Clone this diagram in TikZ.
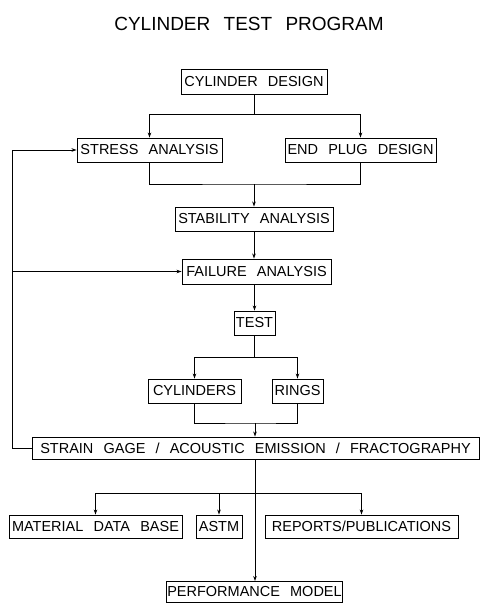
\documentclass[tikz,border=0pt]{standalone}
\usepackage{fontspec}
\setmainfont{Liberation Sans}
\usetikzlibrary{arrows.meta}
\newcommand\myboxfont{\fontsize{14.5}{16}\selectfont\spaceskip=0.7em plus 0pt minus 0pt\relax}
\newcommand\mytitlefont{\fontsize{19}{22}\selectfont\spaceskip=0.7em plus 0pt minus 0pt\relax}
\tikzset{
  box/.style={draw, line width=0.9pt, inner sep=0pt, minimum height=24pt, font=\myboxfont},
  conn/.style={line width=0.8pt},
  arr/.style={conn, -{Stealth[length=5pt,width=3.5pt]}}
}
\begin{document}
\begin{tikzpicture}[x=1pt,y=-1pt]
\useasboundingbox (0,0) rectangle (481,605);
\node[font=\mytitlefont] (title) at (249,24) {CYLINDER TEST PROGRAM};
\node[box, minimum width=146pt, minimum height=25pt] (cd) at (254,81.5) {CYLINDER DESIGN};
\node[box, minimum width=145pt] (sa) at (149.5,150) {STRESS ANALYSIS};
\node[box, minimum width=151pt] (ep) at (360.5,150) {END PLUG DESIGN};
\node[box, minimum width=158pt] (st) at (254,219) {STABILITY ANALYSIS};
\node[box, minimum width=149pt, minimum height=25pt] (fa) at (256.5,271.5) {FAILURE ANALYSIS};
\node[box, minimum width=41pt] (te) at (254.5,323) {TEST};
\node[box, minimum width=93pt] (cy) at (194.5,391) {CYLINDERS};
\node[box, minimum width=51pt] (ri) at (297.5,391) {RINGS};
\node[box, minimum width=447pt, minimum height=22pt] (sg) at (255.5,448) {STRAIN GAGE / ACOUSTIC EMISSION / FRACTOGRAPHY};
\node[box, minimum width=173pt, minimum height=23pt] (md) at (95.5,526.5) {MATERIAL DATA BASE};
\node[box, minimum width=46pt, minimum height=23pt] (as) at (219,526.5) {ASTM};
\node[box, minimum width=193pt, minimum height=23pt] (rp) at (361.5,526.5) {REPORTS/PUBLICATIONS};
\node[box, minimum width=176pt, minimum height=21pt] (pm) at (254.5,592) {PERFORMANCE MODEL};
% top split
\coordinate (j1) at (254,114);
\draw[conn] (cd.south) -- (j1);
\draw[arr] (j1) -| (sa.north);
\draw[arr] (j1) -| (ep.north);
% merge
\coordinate (j2) at (254,184);
\draw[conn] (sa.south) |- (j2) -| (ep.south);
\draw[arr] (j2) -- (st.north);
\draw[arr] (st.south) -- (fa.north -| st.south);
\draw[arr] (fa.south -| te.north) -- (te.north);
% test split
\coordinate (j3) at (254.5,357);
\draw[conn] (te.south) -- (j3);
\draw[arr] (j3) -| (cy.north);
\draw[arr] (j3) -| (ri.north);
% merge to strain gage
\coordinate (j4) at (255,423);
\draw[conn] (cy.south) |- (j4) -| (ri.south);
\draw[arr] (j4) -- (sg.north -| j4);
% feedback
\coordinate (fb) at (12,448);
\draw[arr] (sg.west) -- (fb) |- (sa.west);
\draw[arr] (fb |- fa.west) -- (fa.west);
% outputs
\coordinate (j5) at (255,493);
\draw[arr] (sg.south -| j5) -- (pm.north -| j5);
\draw[arr] (j5) -| (md.north);
\draw[arr] (j5) -| (rp.north);
\draw[arr] (as.north |- j5) -- (as.north);
\end{tikzpicture}
\end{document}
